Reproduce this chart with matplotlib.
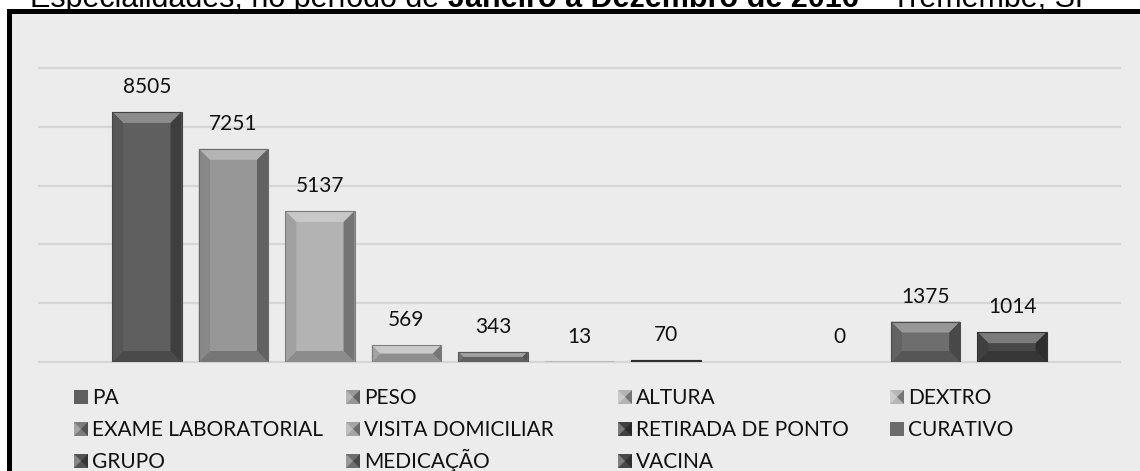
import numpy as np
import matplotlib
matplotlib.use("Agg")
import matplotlib.pyplot as plt
from matplotlib.patches import Polygon, Rectangle
import matplotlib.colors as mcolors

# ---------------- data ----------------
categories = ["PA", "PESO", "ALTURA", "DEXTRO", "EXAME LABORATORIAL",
              "VISITA DOMICILIAR", "RETIRADA DE PONTO", "CURATIVO", "GRUPO",
              "MEDICAÇÃO", "VACINA"]
values = [8505, 7251, 5137, 569, 343, 13, 70, np.nan, 0, 1375, 1014]
value_labels = ["8505", "7251", "5137", "569", "343", "13", "70", "", "0",
                "1375", "1014"]
bar_colors = ["#5f5f5f", "#979797", "#b3b3b3", "#b6b6b6", "#7c7c7c",
              "#a4a4a4", "#3f3f3f", "#6b6b6b", "#525252", "#6e6e6e", "#474747"]
grid_values = [0, 2000, 4000, 6000, 8000, 10000]
title_parts = [("Especialidades, no período de ", "normal"),
               ("Janeiro a Dezembro de 2016", "bold"),
               (" – Tremembé, SP", "normal")]

W, H = 1140, 471
fig = plt.figure(figsize=(W / 100, H / 100), dpi=100)
fig.patch.set_facecolor("white")

# outer frame (black border, light grey fill), cut by the image edges
fig.add_artist(Rectangle((7 / W, -0.1), 1.2, (H - 9) / H + 0.1,
                         transform=fig.transFigure, facecolor="black",
                         edgecolor="none", zorder=0))
fig.add_artist(Rectangle((12 / W, -0.1), 1.2, (H - 14) / H + 0.1,
                         transform=fig.transFigure, facecolor="#ececec",
                         edgecolor="none", zorder=0))

# title (mostly cut off at the top, as in the source image)
fig.canvas.draw()
renderer = fig.canvas.get_renderer()
x_px = 30
for txt, wt in title_parts:
    t = fig.text(x_px / W, 1 - 7 / H, txt, fontsize=22, fontweight=wt,
                 family="Liberation Sans", va="baseline", ha="left")
    bb = t.get_window_extent(renderer=renderer)
    x_px += bb.width

label_font = "Lato"

ax = fig.add_axes([39 / W, 109 / H, (1120 - 39) / W, (362 - 68) / H])
ax.set_facecolor("none")
for s in ax.spines.values():
    s.set_visible(False)
x = np.arange(len(categories))
ax.set_xlim(-1.247, len(categories) - 1 + 1.247)
ax.set_ylim(grid_values[0], grid_values[-1])
ax.set_yticks(grid_values)
ax.tick_params(left=False, bottom=False, labelleft=False, labelbottom=False)
ax.set_xticks([])
ax.yaxis.grid(True, color="#d6d6d6", lw=1.6)
ax.set_axisbelow(True)
for gl in ax.get_ygridlines():
    gl.set_clip_on(False)

bars = ax.bar(x, values, width=0.8, color=bar_colors, zorder=2,
              edgecolor="none")

# pixel <-> data scale for bevel drawing
pos = ax.get_position()
dx = (ax.get_xlim()[1] - ax.get_xlim()[0]) / (pos.width * W)
dy = (ax.get_ylim()[1] - ax.get_ylim()[0]) / (pos.height * H)


def shade(c, f):
    r, g, b = mcolors.to_rgb(c)
    if f >= 0:
        return (r + (1 - r) * f, g + (1 - g) * f, b + (1 - b) * f)
    return (r * (1 + f), g * (1 + f), b * (1 + f))


for rect, col in zip(bars.patches, bar_colors):
    h = rect.get_height()
    if not np.isfinite(h) or h <= 0:
        continue
    x0 = rect.get_x()
    x1 = x0 + rect.get_width()
    y0, y1 = 0, h
    h_px = h / dy
    w_px = rect.get_width() / dx
    b = min(11, h_px / 2, w_px / 2)
    bx, by = b * dx, b * dy
    polys = [
        ([(x0, y1), (x1, y1), (x1 - bx, y1 - by), (x0 + bx, y1 - by)], shade(col, 0.28)),
        ([(x0, y0), (x1, y0), (x1 - bx, y0 + by), (x0 + bx, y0 + by)], shade(col, -0.22)),
        ([(x0, y0), (x0 + bx, y0 + by), (x0 + bx, y1 - by), (x0, y1)], shade(col, -0.10)),
        ([(x1, y0), (x1, y1), (x1 - bx, y1 - by), (x1 - bx, y0 + by)], shade(col, -0.35)),
    ]
    for pts, c in polys:
        ax.add_patch(Polygon(pts, closed=True, facecolor=c, edgecolor="none",
                             zorder=3))
    ax.add_patch(Rectangle((x0, y0), x1 - x0, h, facecolor="none",
                           edgecolor=shade(col, -0.3), lw=0.8, zorder=4))

for xi, v, lbl in zip(x, values, value_labels):
    if not np.isfinite(v):
        continue
    ax.annotate(lbl, (xi, v), xytext=(0, 18), textcoords="offset points",
                ha="center", va="center", fontsize=15, family=label_font,
                color="#111111")

# legend (4 columns, row-wise)
for i, (cat, col) in enumerate(zip(categories, bar_colors)):
    row, c = divmod(i, 4)
    mx = 74 + c * 272
    yc = 397 + row * 32
    s = 14
    fx, fy = mx / W, 1 - (yc + s / 2) / H
    fw, fh = s / W, s / H
    fig.add_artist(Rectangle((fx, fy), fw, fh, transform=fig.transFigure,
                             facecolor=col, edgecolor="none", zorder=3))
    if cat != "CURATIVO" and cat != "PA":
        cx, cy = fx + fw / 2, fy + fh / 2
        fig.add_artist(Polygon([(fx, fy), (fx, fy + fh), (cx, cy)],
                               closed=True, transform=fig.transFigure,
                               facecolor=shade(col, 0.3), edgecolor="none",
                               zorder=4))
        fig.add_artist(Polygon([(fx + fw, fy), (fx + fw, fy + fh), (cx, cy)],
                               closed=True, transform=fig.transFigure,
                               facecolor=shade(col, -0.35), edgecolor="none",
                               zorder=4))
    fig.text((mx + 18) / W, 1 - (yc + 7.5) / H, cat, fontsize=15,
             family=label_font, va="baseline", ha="left", color="#111111")

fig.savefig("out.png", dpi=100, facecolor=fig.get_facecolor())
